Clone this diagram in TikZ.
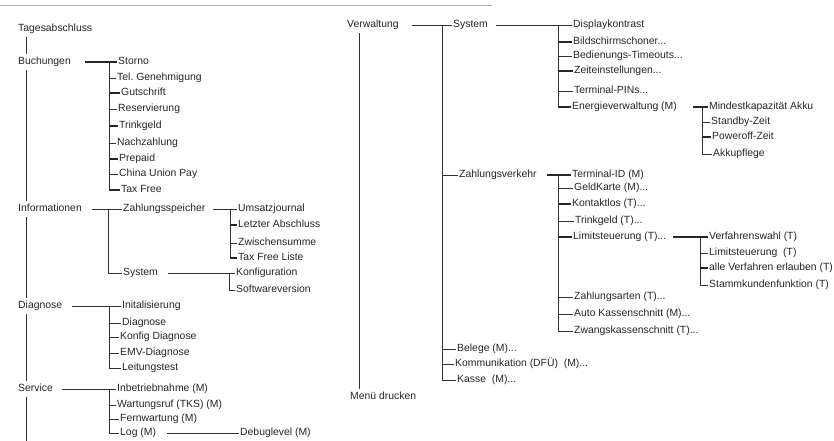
\documentclass[tikz,border=0pt]{standalone}
\usepackage{fontspec}
\setmainfont{Liberation Sans}
\begin{document}
\begin{tikzpicture}[x=1pt, y=-1pt,
  eintrag/.style={anchor=west, inner xsep=1pt, inner ysep=3.5pt, text height=7pt, text depth=2pt, font=\fontsize{10.4}{12}\selectfont, text=black!85},
  linie/.style={line width=0.6pt, draw=black!80},
  fett/.style={line width=1.4pt, draw=black!85}]
		\path[use as bounding box, fill=white] (0,0) rectangle (834,441);
		\draw[gray!60, line width=0.8pt] (0,5) -- (492,5);

		% Linke Spalte
		\node[eintrag] (tages) at (17,29) {Tagesabschluss};
		\node[eintrag] (buch) at (17,62) {Buchungen};
		\node[eintrag] (storno) at (117,62) {Storno};
		\node[eintrag] (tel) at (116,78) {Tel.\ Genehmigung};
		\node[eintrag] (gut) at (120,93) {Gutschrift};
		\node[eintrag] (res) at (117,109) {Reservierung};
		\node[eintrag] (trink) at (118,126) {Trinkgeld};
		\node[eintrag] (nach) at (116,143) {Nachzahlung};
		\node[eintrag] (prep) at (118,159) {Prepaid};
		\node[eintrag] (china) at (118,174) {China Union Pay};
		\node[eintrag] (taxfree) at (120,190) {Tax Free};
		\node[eintrag] (info) at (17,209) {Informationen};
		\node[eintrag] (zsp) at (122,209) {Zahlungsspeicher};
		\node[eintrag] (umsatz) at (237,209) {Umsatzjournal};
		\node[eintrag] (letzter) at (237,225) {Letzter Abschluss};
		\node[eintrag] (zwischen) at (237,243) {Zwischensumme};
		\node[eintrag] (tfliste) at (237,258) {Tax Free Liste};
		\node[eintrag] (sysL) at (122,273) {System};
		\node[eintrag] (konfig) at (235,273) {Konfiguration};
		\node[eintrag] (softw) at (235,290) {Softwareversion};
		\node[eintrag] (diag) at (17,306) {Diagnose};
		\node[eintrag] (init) at (121,306) {Initalisierung};
		\node[eintrag] (diag2) at (121,323) {Diagnose};
		\node[eintrag] (kdiag) at (119,337) {Konfig Diagnose};
		\node[eintrag] (emv) at (119,353) {EMV-Diagnose};
		\node[eintrag] (leit) at (121,368) {Leitungstest};
		\node[eintrag] (serv) at (17,389) {Service};
		\node[eintrag] (inbetr) at (116,389) {Inbetriebnahme (M)};
		\node[eintrag] (wart) at (116,405) {Wartungsruf (TKS) (M)};
		\node[eintrag] (fern) at (119,419) {Fernwartung (M)};
		\node[eintrag] (log) at (119,433) {Log (M)};
		\node[eintrag] (debug) at (239,433) {Debuglevel (M)};

		% Rechte Spalte
		\node[eintrag] (verw) at (346,25) {Verwaltung};
		\node[eintrag] (sysR) at (452,25) {System};
		\node[eintrag] (dispk) at (572,25) {Displaykontrast};
		\node[eintrag] (bild) at (572,42) {Bildschirmschoner...};
		\node[eintrag] (bed) at (572,56) {Bedienungs-Timeouts...};
		\node[eintrag] (zeit) at (573,71) {Zeiteinstellungen...};
		\node[eintrag] (pins) at (573,91) {Terminal-PINs...};
		\node[eintrag] (energie) at (571,107) {Energieverwaltung (M)};
		\node[eintrag] (mindest) at (708,107) {Mindestkapazität Akku};
		\node[eintrag] (standby) at (710,122) {Standby-Zeit};
		\node[eintrag] (poweroff) at (711,137) {Poweroff-Zeit};
		\node[eintrag] (akku) at (712,154) {Akkupflege};
		\node[eintrag] (zv) at (458,175) {Zahlungsverkehr};
		\node[eintrag] (tid) at (571,175) {Terminal-ID (M)};
		\node[eintrag] (geld) at (573,188) {GeldKarte (M)...};
		\node[eintrag] (kontakt) at (571,204) {Kontaktlos (T)...};
		\node[eintrag] (trinkR) at (574,221) {Trinkgeld (T)...};
		\node[eintrag] (limit) at (572,237) {Limitsteuerung (T)...};
		\node[eintrag] (vwahl) at (708,237) {Verfahrenswahl (T)};
		\node[eintrag] (limit2) at (708,253) {Limitsteuerung\ \ (T)};
		\node[eintrag] (alle) at (708,268) {alle Verfahren erlauben (T)};
		\node[eintrag] (stamm) at (708,285) {Stammkundenfunktion (T)};
		\node[eintrag] (zarten) at (573,297) {Zahlungsarten (T)...};
		\node[eintrag] (autok) at (573,314) {Auto Kassenschnitt (M)...};
		\node[eintrag] (zwangk) at (573,331) {Zwangskassenschnitt (T)...};
		\node[eintrag] (beleg) at (456,349) {Belege (M)...};
		\node[eintrag] (komm) at (454,364) {Kommunikation (DFÜ)\ \ (M)...};
		\node[eintrag] (kasse) at (456,380) {Kasse\ \ (M)...};
		\node[eintrag] (menu) at (349,397) {Menü drucken};

		% Sammelschienen
		\coordinate (sL) at (26,445);
		\coordinate (bBuch) at (109,0);
		\coordinate (bInfo) at (108,0);
		\coordinate (bZsp) at (230,0);
		\coordinate (bSysL) at (229,0);
		\coordinate (bDiag) at (109,0);
		\coordinate (bServ) at (109,0);
		\coordinate (sR) at (359,0);
		\coordinate (bVerw) at (442,0);
		\coordinate (bSysR) at (558,0);
		\coordinate (bEnergie) at (702,0);
		\coordinate (bZv) at (558,0);
		\coordinate (bLimit) at (700,0);

		% Verbindungen links
		\foreach \a/\b in {tages/buch, buch/info, info/diag, diag/serv}
			\draw[linie] (\a.south -| sL) -- (\b.north -| sL);
		\draw[linie] (serv.south -| sL) -- (sL);
		\draw[fett] ([xshift=13pt]buch.east) -- (storno.west);
		\draw[linie] (bBuch |- storno.west) -- (bBuch |- taxfree.west);
		\foreach \k in {tel, res, nach, china}
			\draw[linie] (bBuch |- \k.west) -- (\k.west);
		\foreach \k in {gut, trink, prep, taxfree}
			\draw[fett] (bBuch |- \k.west) -- (\k.west);
		\draw[linie] ([xshift=9pt]info.east) -- (zsp.west);
		\draw[linie] (bInfo |- zsp.west) |- (sysL.west);
		\draw[linie] ([xshift=7pt]zsp.east) -- (umsatz.west);
		\draw[linie] (bZsp |- umsatz.west) -- (bZsp |- tfliste.west);
		\draw[linie] (bZsp |- zwischen.west) -- (zwischen.west);
		\foreach \k in {letzter, tfliste}
			\draw[fett] (bZsp |- \k.west) -- (\k.west);
		\draw[linie] ([xshift=9pt]sysL.east) -- (konfig.west);
		\draw[linie] (bSysL |- konfig.west) |- (softw.west);
		\draw[linie] ([xshift=9pt]diag.east) -- (init.west);
		\draw[linie] (bDiag |- init.west) |- (leit.west);
		\foreach \k in {diag2, kdiag, emv}
			\draw[linie] (bDiag |- \k.west) -- (\k.west);
		\draw[linie] ([xshift=8pt]serv.east) -- (inbetr.west);
		\draw[linie] (bServ |- inbetr.west) |- (log.west);
		\foreach \k in {wart, fern}
			\draw[linie] (bServ |- \k.west) -- (\k.west);
		\draw[linie] ([xshift=10pt]log.east) -- (debug.west);

		% Verbindungen rechts
		\draw[linie] (verw.south -| sR) -- (menu.north -| sR);
		\draw[linie] ([xshift=12pt]verw.east) -- (sysR.west);
		\draw[linie] (bVerw |- sysR.west) |- (kasse.west);
		\foreach \k in {zv, beleg, komm}
			\draw[linie] (bVerw |- \k.west) -- (\k.west);
		\draw[linie] ([xshift=7pt]sysR.east) -- (dispk.west);
		\draw[linie] (bSysR |- dispk.west) -- (bSysR |- energie.west);
		\foreach \k in {bed, pins}
			\draw[linie] (bSysR |- \k.west) -- (\k.west);
		\foreach \k in {bild, zeit, energie}
			\draw[fett] (bSysR |- \k.west) -- (\k.west);
		\draw[fett] ([xshift=15pt]energie.east) -- (mindest.west);
		\draw[linie] (bEnergie |- mindest.west) |- (akku.west);
		\draw[linie] (bEnergie |- standby.west) -- (standby.west);
		\draw[fett] (bEnergie |- poweroff.west) -- (poweroff.west);
		\draw[fett] ([xshift=9pt]zv.east) -- (tid.west);
		\draw[linie] (bZv |- tid.west) |- (zwangk.west);
		\foreach \k in {geld, trinkR, zarten, autok}
			\draw[linie] (bZv |- \k.west) -- (\k.west);
		\foreach \k in {kontakt, limit}
			\draw[fett] (bZv |- \k.west) -- (\k.west);
		\draw[fett] ([xshift=6pt]limit.east) -- (vwahl.west);
		\draw[linie] (bLimit |- vwahl.west) |- (stamm.west);
		\draw[linie] (bLimit |- limit2.west) -- (limit2.west);
		\draw[fett] (bLimit |- alle.west) -- (alle.west);

	\end{tikzpicture}
\end{document}
